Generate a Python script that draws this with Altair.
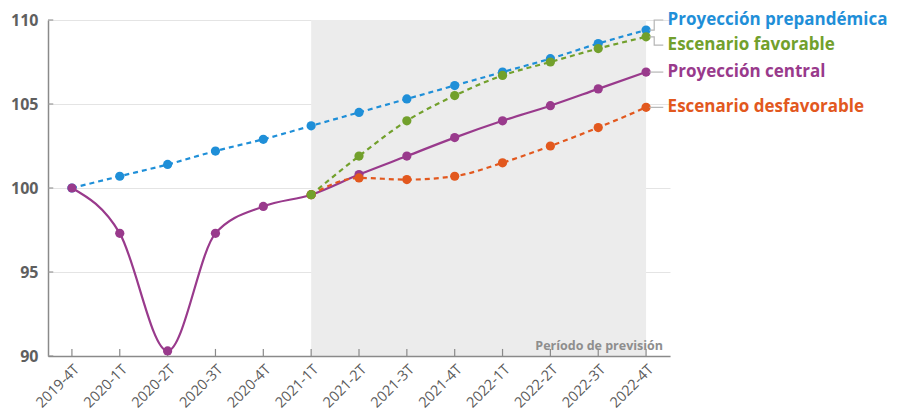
import altair as alt
import pandas as pd

categories = ["2019-4T", "2020-1T", "2020-2T", "2020-3T", "2020-4T", "2021-1T",
              "2021-2T", "2021-3T", "2021-4T", "2022-1T", "2022-2T", "2022-3T", "2022-4T"]

prepandemica = [100.0, 100.7, 101.4, 102.2, 102.9, 103.7, 104.5, 105.3, 106.1, 106.9, 107.7, 108.6, 109.4]
central = [100.0, 97.3, 90.3, 97.3, 98.9, 99.6, 100.8, 101.9, 103.0, 104.0, 104.9, 105.9, 106.9]
favorable = [None, None, None, None, None, 99.6, 101.9, 104.0, 105.5, 106.7, 107.5, 108.3, 109.0]
desfavorable = [None, None, None, None, None, 99.6, 100.6, 100.5, 100.7, 101.5, 102.5, 103.6, 104.8]

series_names = ["Proyección prepandémica", "Proyección central", "Escenario desfavorable", "Escenario favorable"]
series_values = [prepandemica, central, desfavorable, favorable]
series_colors = ["#1f8fd8", "#993a8c", "#e2581e", "#72a02c"]
series_dashed = [True, False, True, True]

y_ticks = [90, 95, 100, 105, 110]

# label positions (value units) and connector geometry (x in category index units)
label_y = [110.0, 106.9, 104.8, 108.5]
point_end = [109.4, 106.9, 104.8, 109.0]

rows = []
for name, vals in zip(series_names, series_values):
    for c, v in zip(categories, vals):
        if v is not None:
            rows.append({"serie": name, "cat": c, "valor": v})
df = pd.DataFrame(rows)

shade = pd.DataFrame([{"cat": "2021-1T", "x1": "2022-4T", "valor": 90, "y1": 110}])

xscale = alt.Scale(type="point", domain=categories, padding=0.5)
yscale = alt.Scale(domain=[90, 110], nice=False, zero=False)
qscale = alt.Scale(domain=[-0.5, 12.5], nice=False, zero=False)

xaxis = alt.Axis(title=None, labelAngle=-45, labelFontSize=14.5, labelColor="#5a5a5a",
                 labelFont="Open Sans", labelFontWeight=500, domainColor="#8a8a8a", domainWidth=1.5,
                 ticks=False, grid=False, labelPadding=6)
yaxis = alt.Axis(title=None, values=y_ticks, labelFontSize=16,
                 labelColor="#5f5f5f", labelFont="Open Sans", labelFontWeight="bold",
                 domainColor="#8a8a8a", domainWidth=1.5, ticks=False, labelPadding=10,
                 gridColor="#e4e4e4", gridWidth=1)


def X():
    return alt.X("cat:O", scale=xscale, sort=categories, axis=xaxis)


def Y():
    return alt.Y("valor:Q", scale=yscale, axis=yaxis)


rect = alt.Chart(shade).mark_rect(color="#ececec").encode(x=X(), x2="x1:O", y=Y(), y2="y1:Q")

shade_text = alt.Chart(pd.DataFrame([{"cat": "2022-4T", "valor": 90, "t": "Período de previsión"}])).mark_text(
    align="right", baseline="bottom", dx=17, dy=-3, fontSize=12.5, fontWeight="bold",
    color="#8e8e8e", font="Open Sans").encode(x=X(), y=Y(), text="t:N")

# inward ticks on the x axis
xt = pd.DataFrame({"cat": categories, "valor": [90] * len(categories), "y1": [90.42] * len(categories)})
xticks = alt.Chart(xt).mark_rule(color="#8a8a8a", strokeWidth=1.2).encode(x=X(), y=Y(), y2="y1:Q")

layers = [rect, xticks, shade_text]

for name, color, dashed in zip(series_names, series_colors, series_dashed):
    base = alt.Chart(df).transform_filter(alt.datum.serie == name)
    line_kwargs = dict(interpolate="monotone", color=color, strokeWidth=2.2)
    if dashed:
        line_kwargs["strokeDash"] = [5, 4]
    line = base.mark_line(**line_kwargs).encode(x=X(), y=Y())
    pts = base.mark_circle(color=color, size=85, opacity=1).encode(x=X(), y=Y())
    layers += [line, pts]

main = alt.layer(*layers)

# inward ticks on the y axis
yt = pd.DataFrame({"valor": y_ticks, "xi": [-0.5] * len(y_ticks), "xi2": [-0.39] * len(y_ticks)})
yticks = alt.Chart(yt).mark_rule(color="#9a9a9a", strokeWidth=1.2).encode(
    x=alt.X("xi:Q", scale=qscale, axis=None), x2="xi2:Q", y=Y())

# connectors and labels on a numeric index scale matching the category positions
conn_rows = []
x_start, x_mid, x_end = 12.07, 12.17, 12.36
for i, name in enumerate(series_names):
    pts_ = [(x_start, point_end[i]), (x_mid, point_end[i]), (x_mid, label_y[i]), (x_end, label_y[i])]
    for k, (xx, yy) in enumerate(pts_):
        conn_rows.append({"serie": name, "k": k, "xi": xx, "valor": yy})
conn = pd.DataFrame(conn_rows)
connectors = alt.Chart(conn).mark_line(color="#b5b5b5", strokeWidth=1.2, clip=False).encode(
    x=alt.X("xi:Q", scale=qscale, axis=None), y=Y(),
    detail="serie:N", order="k:Q")

lab = pd.DataFrame({"serie": series_names, "valor": label_y, "xi": [12.45] * 4, "color": series_colors})
labels = alt.Chart(lab).mark_text(align="left", baseline="middle", fontSize=17, fontWeight="bold",
                                  font="Open Sans", clip=False).encode(
    x=alt.X("xi:Q", scale=qscale, axis=None), y=Y(),
    text="serie:N", color=alt.Color("color:N", scale=None))

chart = alt.layer(main, yticks, connectors, labels).resolve_scale(x="independent", y="shared").properties(
    width=622, height=336,
    autosize=alt.AutoSizeParams(type="none"),
    padding={"left": 40, "top": 12, "right": 230, "bottom": 57},
).configure_view(stroke=None).configure_axis(labelFont="Open Sans")

chart.save("out.html", embed_options={"renderer": "svg", "actions": False})
